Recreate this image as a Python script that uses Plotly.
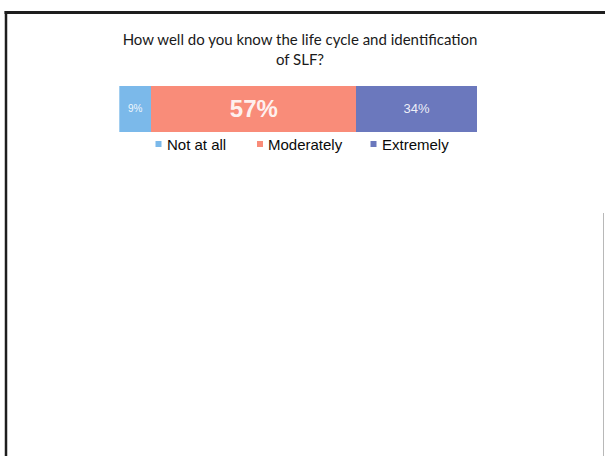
import plotly.graph_objects as go

W, H = 605, 456

# Survey responses (percent of respondents)
categories = ["Not at all", "Moderately", "Extremely"]
shares = [9, 57, 34]
colors = ["#7bb9ea", "#f98c79", "#6b78bd"]
label_sizes = [10, 24, 13]
label_weights = ["normal", "bold", "normal"]

title_text = "How well do you know the life cycle and identification<br>of SLF?"


def px_x(x):
    return x / W


def px_y(y):
    return 1 - y / H


fig = go.Figure()
for name, val, col, fs, fw in zip(categories, shares, colors, label_sizes, label_weights):
    fig.add_trace(go.Bar(
        y=["SLF"], x=[val], name=name, orientation="h",
        marker=dict(color=col, line=dict(width=0)),
        width=1,
        text=[f"{val}%"], textposition="inside", insidetextanchor="middle",
        textfont=dict(color="rgba(255,255,255,0.9)", size=fs,
                      family="Liberation Sans", weight=fw),
        showlegend=False,
        hoverinfo="skip",
    ))

shapes = []
annotations = []

# legend: small square swatch + label per category
legend_marker_x = [158.5, 260, 373.5]
legend_text_x = [165, 266, 380]
legend_y = 144
for name, col, mx, tx in zip(categories, colors, legend_marker_x, legend_text_x):
    shapes.append(dict(type="rect", xref="paper", yref="paper",
                       x0=px_x(mx - 3), x1=px_x(mx + 3),
                       y0=px_y(legend_y + 3), y1=px_y(legend_y - 3),
                       fillcolor=col, line=dict(width=0)))
    annotations.append(dict(text=name, xref="paper", yref="paper",
                            x=px_x(tx), y=px_y(legend_y),
                            xanchor="left", yanchor="middle", showarrow=False,
                            font=dict(family="Liberation Sans", size=15,
                                      color="#0a0a0a")))

# page frame
shapes += [
    dict(type="line", xref="paper", yref="paper",
         x0=px_x(4.5), x1=1, y0=px_y(12.5), y1=px_y(12.5),
         line=dict(color="#1e1e1e", width=3)),
    dict(type="line", xref="paper", yref="paper",
         x0=px_x(6), x1=px_x(6), y0=px_y(11), y1=0,
         line=dict(color="#1e1e1e", width=2.5)),
    dict(type="line", xref="paper", yref="paper",
         x0=px_x(603.5), x1=px_x(603.5), y0=px_y(213), y1=0,
         line=dict(color="#b8b8b8", width=1)),
]

fig.update_layout(
    width=W, height=H,
    margin=dict(l=0, r=0, t=0, b=0),
    paper_bgcolor="white", plot_bgcolor="white",
    barmode="stack", bargap=0,
    title=dict(text=title_text, x=px_x(300), xanchor="center",
               y=px_y(45), yanchor="top",
               font=dict(family="Lato", size=15, color="#1a1a1a")),
    xaxis=dict(domain=[px_x(119.3), px_x(477.7)], range=[0, 100],
               visible=False, fixedrange=True),
    yaxis=dict(domain=[px_y(132), px_y(85.7)], range=[-0.5, 0.5],
               visible=False, fixedrange=True),
    shapes=shapes,
    annotations=annotations,
    uniformtext=dict(mode=False),
)

fig.write_html("out.html")
